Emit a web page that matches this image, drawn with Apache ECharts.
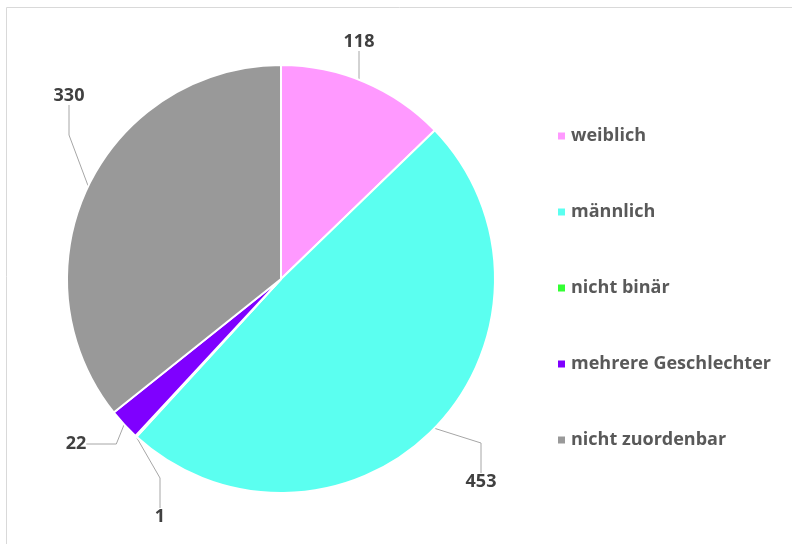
<!DOCTYPE html>
<html><head><meta charset="utf-8">
<script src="https://cdn.jsdelivr.net/npm/echarts@6/dist/echarts.min.js"></script>
<style>html,body{margin:0;padding:0;background:#fff}#c{width:792px;height:544px}</style>
</head><body><div id="c"></div>
<script>
const categories = ['weiblich', 'männlich', 'nicht binär', 'mehrere Geschlechter', 'nicht zuordenbar'];
const values = [118, 453, 1, 22, 330];
const colors = ['#FF99FF', '#5BFFF0', '#33FF33', '#7F00FF', '#999999'];
// label anchor positions (layout only)
const labelPos = [[359, 42], [481, 482], [160, 517], [76, 444], [69, 96]];

const chart = echarts.init(document.getElementById('c'), null, {renderer: 'canvas'});
chart.setOption({
  animation: false,
  graphic: [{
    type: 'rect', shape: {x: 6.5, y: 7.5, width: 800, height: 560},
    style: {fill: 'none', stroke: '#d9d9d9', lineWidth: 1}
  }],
  legend: {
    orient: 'vertical', left: 551, top: 119,
    icon: 'rect', itemWidth: 9, itemHeight: 9, itemGap: 52,
    textStyle: {fontFamily: 'Open Sans', fontWeight: 'bold', fontSize: 18, color: '#595959', lineHeight: 24},
    data: categories
  },
  series: [{
    type: 'pie',
    center: [281, 279], radius: 214,
    startAngle: 90, clockwise: true,
    avoidLabelOverlap: false,
    itemStyle: {borderColor: '#fff', borderWidth: 2},
    label: {
      show: true, formatter: '{c}',
      fontFamily: 'Open Sans', fontWeight: 'bold', fontSize: 18, color: '#404040'
    },
    labelLine: {show: true, lineStyle: {color: '#a6a6a6', width: 1}},
    labelLayout: function (p) {
      const pos = labelPos[p.dataIndex];
      return {x: pos[0], y: pos[1], align: 'center', verticalAlign: 'middle', hideOverlap: false, moveOverlap: null};
    },
    data: categories.map((n, i) => ({name: n, value: values[i], itemStyle: {color: colors[i]}}))
  }]
});
</script></body></html>
